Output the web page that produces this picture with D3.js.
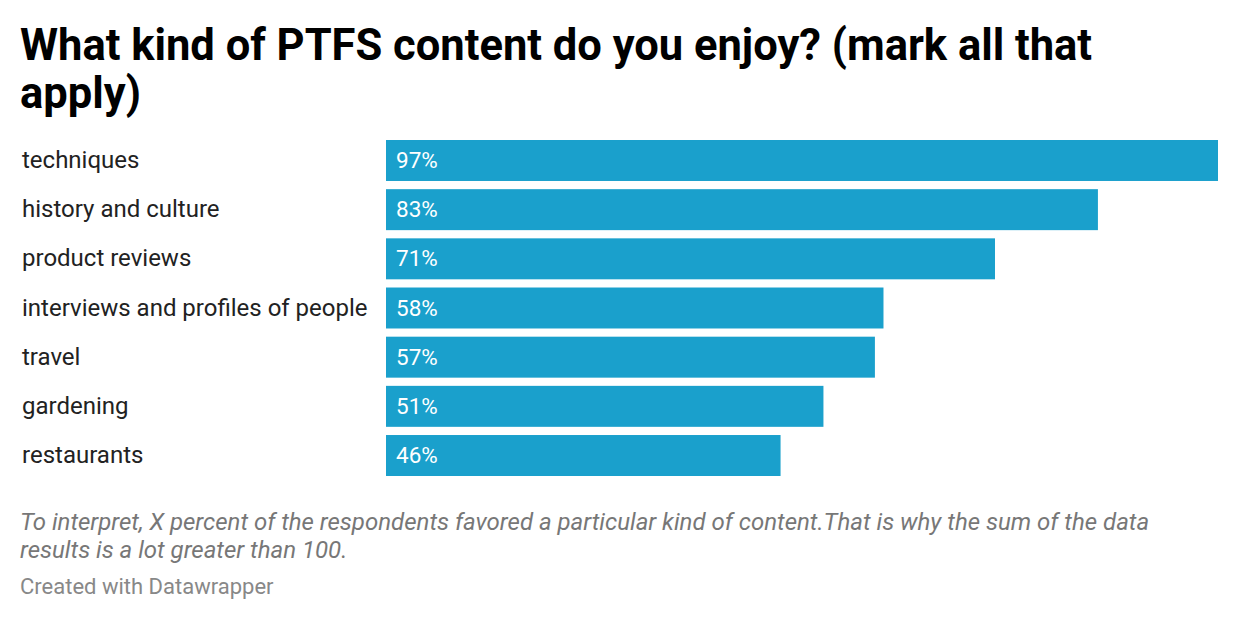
<!DOCTYPE html>
<html><head><meta charset="utf-8">
<script src="https://cdn.jsdelivr.net/npm/d3@7"></script>
<style>body{margin:0;background:#fff;font-family:Roboto,sans-serif}</style>
</head><body>
<svg id="c" width="1240" height="620"></svg>
<script>
const categories=["techniques","history and culture","product reviews","interviews and profiles of people","travel","gardening","restaurants"];
const values=[97,83,71,58,57,51,46];
const svg=d3.select("#c");
svg.append("text").attr("x",20).attr("y",60).attr("font-size",43.5).attr("font-weight",700).attr("fill","#000").text("What kind of PTFS content do you enjoy? (mark all that");
svg.append("text").attr("x",20).attr("y",108).attr("font-size",43.5).attr("font-weight",700).attr("fill","#000").text("apply)");
const x=d3.scaleLinear().domain([0,97]).range([386,1218]);
const y=d3.scaleBand().domain(categories).range([140,476]).paddingInner(8/48).paddingOuter(0);
categories.forEach((c,i)=>{
  const top=y(c);
  svg.append("rect").attr("x",x(0)).attr("y",top).attr("width",x(values[i])-x(0)).attr("height",y.bandwidth()).attr("fill","#1aa0cc");
  svg.append("text").attr("x",22).attr("y",top+28).attr("font-size",24).attr("fill","#222").text(c);
  svg.append("text").attr("x",x(0)+10).attr("y",top+28).attr("font-size",22.5).attr("fill","#fff").text(values[i]+"%");
});
svg.append("text").attr("x",20).attr("y",530).attr("font-size",24).attr("font-style","italic").attr("fill","#777").text("To interpret, X percent of the respondents favored a particular kind of content.That is why the sum of the data");
svg.append("text").attr("x",20).attr("y",558).attr("font-size",24).attr("font-style","italic").attr("fill","#777").text("results is a lot greater than 100.");
svg.append("text").attr("x",20).attr("y",594).attr("font-size",22).attr("fill","#888").text("Created with Datawrapper");
</script></body></html>
